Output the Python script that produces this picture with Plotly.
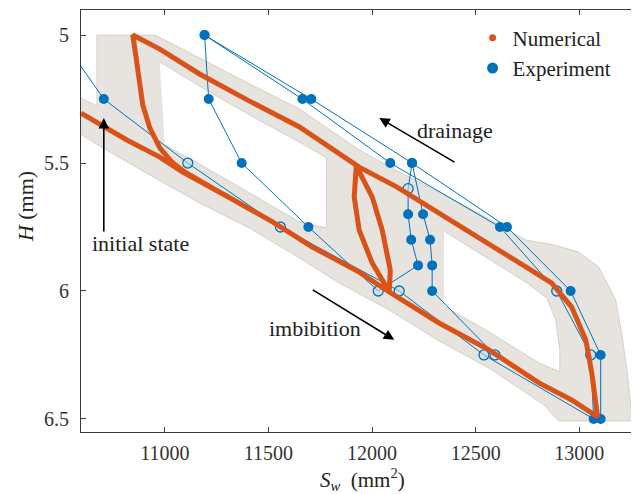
import plotly.graph_objects as go

# ---------------- data ----------------
# Numerical (mean) hysteresis path: S_w (mm^2) and H (mm)
num_sw = [10596, 10817, 10976, 11087, 11298, 11520, 11712, 11938, 12083, 12323, 12564, 12805, 12963, 13088,
          13060, 13031, 12963, 12867, 12742, 12530, 12323, 12121, 11938, 11842, 11650, 11409, 11168, 10976, 10846,
          10860, 10875, 10894, 10928, 10976, 11034, 11096, 11298, 11520, 11712, 11938, 12083,
          12088, 12049, 12001, 11924,
          11914, 11938, 12001, 12078]
num_h = [5.305, 5.410, 5.477, 5.535, 5.629, 5.730, 5.828, 5.926, 6.004, 6.125, 6.230, 6.359, 6.426, 6.492,
         6.320, 6.191, 6.063, 5.969, 5.906, 5.801, 5.695, 5.594, 5.516, 5.465, 5.359, 5.258, 5.152, 5.055, 5.0,
         5.078, 5.176, 5.273, 5.363, 5.441, 5.496, 5.535, 5.629, 5.730, 5.828, 5.926, 6.004,
         5.918, 5.762, 5.633, 5.512,
         5.633, 5.762, 5.891, 5.996]

# Experiment path
exp_sw = [10490, 10706, 11111, 11558, 12131, 12540, 13069, 13055, 12891, 12617, 12088, 11664, 11192,
          11212, 11371, 11693, 12030, 12222, 12189, 12174, 12174, 12193, 12246, 12280, 12290, 12290,
          12593, 13103, 13103, 12958, 12651, 12193, 11707, 11192]
exp_h = [5.0, 5.25, 5.5, 5.75, 6.0, 6.25, 6.5, 6.25, 6.0, 5.75, 5.5, 5.25, 5.0,
         5.25, 5.5, 5.75, 6.0, 5.9, 5.8, 5.7, 5.6, 5.5, 5.7, 5.8, 5.9, 6.0,
         6.25, 6.5, 6.25, 6.0, 5.75, 5.5, 5.25, 5.0]
exp_open_idx = [2, 3, 4, 5, 7, 8, 16, 20, 26]

# Envelope of the stochastic realisations (grey band) and its two empty interiors
band_sw = [10596, 10673, 10673, 10952, 11048, 11168, 11409, 11650, 11938, 12131, 12323, 12530, 12742, 12877,
           12997, 13093, 13175, 13204, 13228, 13252, 13257, 12901, 12829, 12564, 12323, 12083, 11842, 11650,
           11409, 11168, 10928, 10687, 10596]
band_h = [5.246, 5.277, 5.0, 5.0, 5.039, 5.090, 5.191, 5.289, 5.449, 5.535, 5.613, 5.703, 5.801, 5.820,
          5.848, 5.906, 6.035, 6.164, 6.297, 6.477, 6.508, 6.508, 6.445, 6.301, 6.195, 6.074, 5.969, 5.871,
          5.754, 5.656, 5.547, 5.434, 5.387]
hole_a_sw = [10976, 11168, 11409, 11650, 11780, 11780, 11650, 11409, 11168, 11000]
hole_a_h = [5.105, 5.199, 5.3125, 5.418, 5.480, 5.754, 5.730, 5.617, 5.504, 5.430]
hole_b_sw = [12347, 12530, 12742, 12843, 12886, 12906, 12906, 12805, 12564, 12347]
hole_b_h = [5.766, 5.859, 5.965, 6.027, 6.113, 6.230, 6.316, 6.281, 6.160, 6.059]

x_ticks = [11000, 11500, 12000, 12500, 13000]
y_ticks = [5, 5.5, 6, 6.5]
y_tick_text = ['5', '5.5', '6', '6.5']

# ---------------- style ----------------
ORANGE = '#D95319'
BLUE = '#0072BD'
GREY_FILL = '#e7e4df'
GREY_LINE = '#d4d0c9'
FONT = 'Liberation Serif'
AX = '#3a3a3a'

fig = go.Figure()

fig.add_trace(go.Scatter(x=band_sw, y=band_h, fill='toself', fillcolor=GREY_FILL, mode='lines',
                         line=dict(color=GREY_LINE, width=1), showlegend=False, hoverinfo='skip'))
for hx, hy in [(hole_a_sw, hole_a_h), (hole_b_sw, hole_b_h)]:
    fig.add_trace(go.Scatter(x=hx, y=hy, fill='toself', fillcolor='white', mode='lines',
                             line=dict(color=GREY_LINE, width=1), showlegend=False, hoverinfo='skip'))

# experiment connecting line
fig.add_trace(go.Scatter(x=exp_sw, y=exp_h, mode='lines', line=dict(color=BLUE, width=1),
                         showlegend=False, hoverinfo='skip'))
solid_idx = [i for i in range(len(exp_sw)) if i not in exp_open_idx]
fig.add_trace(go.Scatter(x=[exp_sw[i] for i in solid_idx], y=[exp_h[i] for i in solid_idx], mode='markers',
                         marker=dict(color=BLUE, size=10, line=dict(width=0)), showlegend=False))
fig.add_trace(go.Scatter(x=[exp_sw[i] for i in exp_open_idx], y=[exp_h[i] for i in exp_open_idx], mode='markers',
                         marker=dict(color='rgba(200,220,235,0.55)', size=10, line=dict(color=BLUE, width=1.3)),
                         showlegend=False))

# numerical line
fig.add_trace(go.Scatter(x=num_sw, y=num_h, mode='lines', line=dict(color=ORANGE, width=5),
                         showlegend=False))

# legend entries
fig.add_trace(go.Scatter(x=[None], y=[None], mode='markers', marker=dict(color=ORANGE, size=7),
                         name='Numerical'))
fig.add_trace(go.Scatter(x=[None], y=[None], mode='markers', marker=dict(color=BLUE, size=11),
                         name='Experiment'))

tfont = dict(family=FONT, size=22, color='#222')
annotations = [
    dict(x=12035, y=5.324, ax=12405, ay=5.5, xref='x', yref='y', axref='x', ayref='y', text='',
         showarrow=True, arrowhead=2, arrowsize=1.3, arrowwidth=1.6, arrowcolor='black'),
    dict(x=12400, y=5.371, xref='x', yref='y', text='drainage', showarrow=False, font=tfont),
    dict(x=12107, y=6.191, ax=11707, ay=5.992, xref='x', yref='y', axref='x', ayref='y', text='',
         showarrow=True, arrowhead=2, arrowsize=1.3, arrowwidth=1.6, arrowcolor='black'),
    dict(x=11727, y=6.148, xref='x', yref='y', text='imbibition', showarrow=False, font=tfont),
    dict(x=10706, y=5.324, ax=10706, ay=5.773, xref='x', yref='y', axref='x', ayref='y', text='',
         showarrow=True, arrowhead=2, arrowsize=1.3, arrowwidth=1.6, arrowcolor='black'),
    dict(x=10885, y=5.8125, xref='x', yref='y', text='initial state', showarrow=False, font=tfont),
    # axis titles
    dict(x=0.5045, y=-0.113, xref='paper', yref='paper', xanchor='center', yanchor='middle',
         text='<i>S</i><sub><i>w</i></sub>&#160;&#160;(mm<sup>2</sup>)', showarrow=False,
         font=dict(family=FONT, size=21, color='#222')),
    dict(x=-0.1005, y=0.533, xref='paper', yref='paper', xanchor='center', yanchor='middle',
         text='<i>H</i>&#160;(mm)', textangle=-90, showarrow=False, font=tfont),
]
# y tick labels placed just left of the axis on the y scale
for v, t in zip(y_ticks, y_tick_text):
    annotations.append(dict(x=-0.018, y=v, xref='paper', yref='y', xanchor='right', yanchor='middle',
                            text=t, showarrow=False, font=dict(family=FONT, size=20, color='#333')))

axis_common = dict(showline=True, linecolor=AX, linewidth=1, mirror='ticks', ticks='inside',
                   ticklen=5, tickcolor=AX, showgrid=False, zeroline=False, automargin=False,
                   tickfont=dict(family=FONT, size=20, color='#333'))

# the page body adds an 8 px offset, so the figure is sized to the visible window minus it
fig.update_layout(
    width=631, height=486,
    margin=dict(l=73, r=1, t=2, b=62),
    paper_bgcolor='white', plot_bgcolor='white',
    font=dict(family=FONT, size=20, color='#222'),
    xaxis=dict(range=[10596, 13283], tickvals=x_ticks, ticktext=[str(v) for v in x_ticks],
               ticklabelstandoff=3, **axis_common),
    yaxis=dict(range=[6.551, 4.902], tickvals=y_ticks, showticklabels=False, **axis_common),
    legend=dict(x=0.703, y=0.982, xanchor='left', yanchor='top', bgcolor='rgba(0,0,0,0)',
                font=dict(family=FONT, size=21, color='#222'), tracegroupgap=0),
    annotations=annotations,
)

fig.write_html('out.html')
